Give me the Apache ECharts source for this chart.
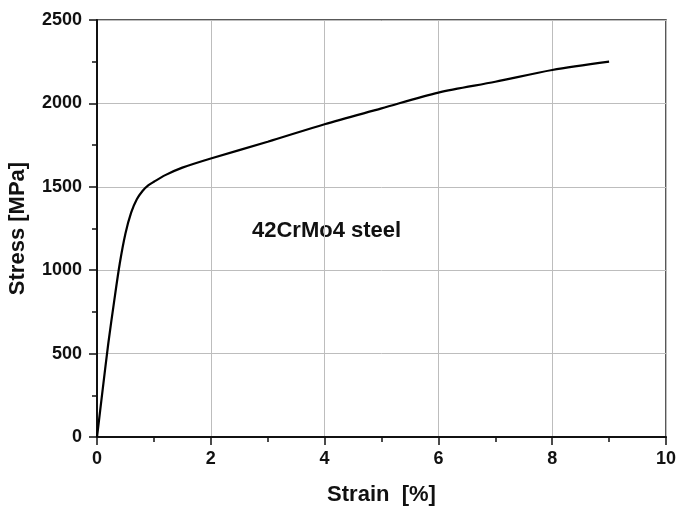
<!DOCTYPE html>
<html>
<head>
<meta charset="utf-8">
<script src="https://cdn.jsdelivr.net/npm/echarts@6/dist/echarts.min.js"></script>
<style>html,body{margin:0;padding:0;background:#fff;}#c{width:677px;height:512px;}</style>
</head>
<body>
<div id="c"></div>
<script>
const strain = [0, 0.1, 0.2, 0.3, 0.4, 0.5, 0.6, 0.7, 0.8, 0.9, 1.0, 1.2, 1.5, 2, 3, 4, 5, 6, 7, 8, 9];
const stress = [0, 285, 565, 810, 1040, 1220, 1345, 1425, 1475, 1508, 1530, 1570, 1615, 1670, 1770, 1875, 1970, 2065, 2130, 2200, 2250];
const xTicks = [0, 2, 4, 6, 8, 10];
const yTicks = [0, 500, 1000, 1500, 2000, 2500];
const annotation = '42CrMo4 steel';

const chart = echarts.init(document.getElementById('c'));
const font = 'Liberation Sans, Arial, sans-serif';
chart.setOption({
  animation: false,
  backgroundColor: '#fff',
  grid: {left: 97, right: 11, top: 20, bottom: 75, outerBoundsMode: 'none', containLabel: false, show: true, borderColor: '#222', borderWidth: 1.5},
  xAxis: {
    type: 'value', min: xTicks[0], max: xTicks[xTicks.length-1], interval: 2,
    name: 'Strain  [%]', nameLocation: 'middle', nameGap: 47,
    nameTextStyle: {fontFamily: font, fontWeight: 'bold', fontSize: 22, color: '#111'},
    axisLine: {lineStyle: {color: '#111', width: 2}},
    axisTick: {show: true, inside: false, length: 8, lineStyle: {color: '#111', width: 1.5}},
    minorTick: {show: true, splitNumber: 2, length: 5, lineStyle: {color: '#111', width: 1.5}},
    axisLabel: {fontFamily: font, fontWeight: 'bold', fontSize: 18, color: '#111', margin: 13, formatter: v => String(v)},
    splitLine: {show: true, lineStyle: {color: '#bdbdbd', width: 1}}
  },
  yAxis: {
    type: 'value', min: yTicks[0], max: yTicks[yTicks.length-1], interval: 500,
    name: 'Stress [MPa]', nameLocation: 'middle', nameGap: 68,
    nameTextStyle: {fontFamily: font, fontWeight: 'bold', fontSize: 22, color: '#111'},
    axisLine: {show: true, lineStyle: {color: '#111', width: 2}},
    axisTick: {show: true, inside: false, length: 8, lineStyle: {color: '#111', width: 1.5}},
    minorTick: {show: true, splitNumber: 2, length: 5, lineStyle: {color: '#111', width: 1.5}},
    axisLabel: {fontFamily: font, fontWeight: 'bold', fontSize: 18, color: '#111', margin: 15, formatter: v => String(v)},
    splitLine: {show: true, lineStyle: {color: '#bdbdbd', width: 1}}
  },
  graphic: [{
    type: 'text', left: 252, top: 220,
    style: {text: annotation, font: 'bold 22px ' + font, fill: '#111'}
  }],
  series: [{
    type: 'line', data: strain.map((x, i) => [x, stress[i]]),
    smooth: 0.3, showSymbol: false, symbol: 'none',
    lineStyle: {color: '#000', width: 2.2}
  }]
});
</script>
</body>
</html>
